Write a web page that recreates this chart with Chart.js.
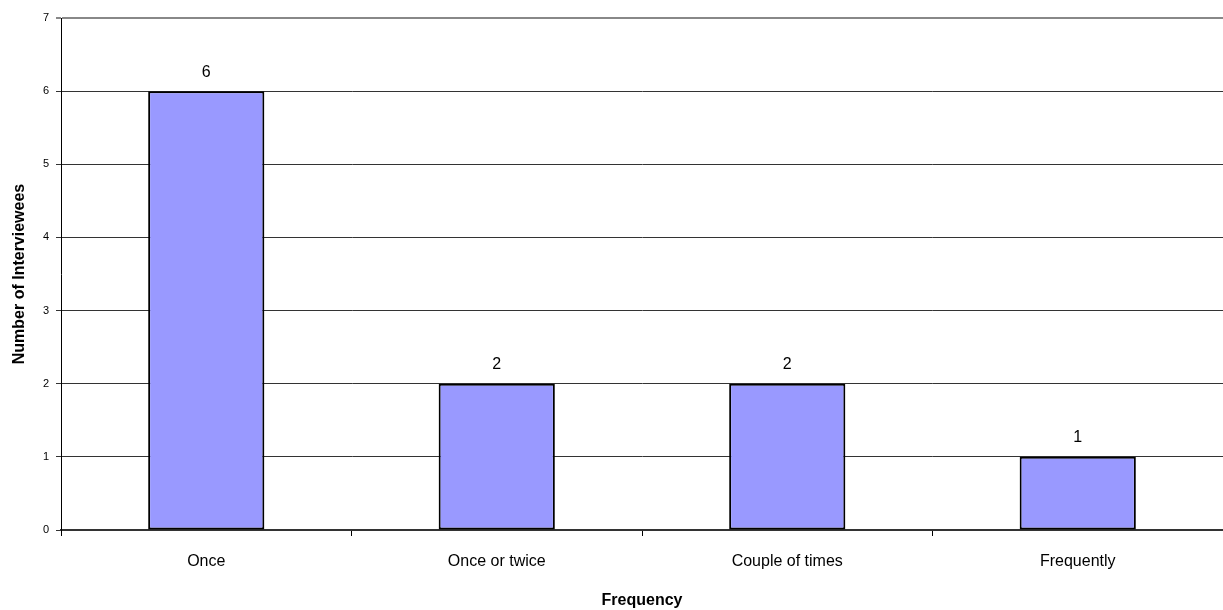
<!DOCTYPE html>
<html>
<head>
<meta charset="utf-8">
<script src="https://cdn.jsdelivr.net/npm/chart.js@4.4.1/dist/chart.umd.min.js"></script>
<style>
  html, body { margin: 0; padding: 0; background: #fff; }
  #wrap { width: 1223px; height: 610px; }
</style>
</head>
<body>
<div id="wrap"><canvas id="c" width="1223" height="610"></canvas></div>
<script>
const categories = ['Once', 'Once or twice', 'Couple of times', 'Frequently'];
const interviewees = [6, 2, 2, 1];
const yTicks = [0, 1, 2, 3, 4, 5, 6, 7];

const FONT = 'Arial, "Liberation Sans", sans-serif';

// Writes each bar's value above it
const valueLabels = {
  id: 'valueLabels',
  afterDatasetsDraw(chart) {
    const ctx = chart.ctx;
    const meta = chart.getDatasetMeta(0);
    ctx.save();
    ctx.fillStyle = '#000';
    ctx.font = '16px ' + FONT;
    ctx.textAlign = 'center';
    ctx.textBaseline = 'bottom';
    meta.data.forEach((bar, i) => {
      ctx.fillText(String(interviewees[i]), bar.x, bar.y - 11);
    });
    ctx.restore();
  }
};

new Chart(document.getElementById('c'), {
  type: 'bar',
  data: {
    labels: categories,
    datasets: [{
      data: interviewees,
      backgroundColor: '#9999ff',
      borderColor: '#000',
      borderWidth: 2,
      borderSkipped: false,
      barPercentage: 0.4,
      categoryPercentage: 1.0
    }]
  },
  options: {
    responsive: false,
    animation: false,
    layout: { padding: { top: 18, right: 0, left: 0, bottom: 0 } },
    plugins: { legend: { display: false }, tooltip: { enabled: false } },
    scales: {
      x: {
        offset: true,
        grid: { offset: true, drawOnChartArea: false, color: '#000', tickLength: 6 },
        border: { color: '#333', width: 2 },
        ticks: { color: '#000', font: { size: 16, family: FONT }, padding: 16, maxRotation: 0 },
        title: { display: true, text: 'Frequency', color: '#000', font: { size: 16, weight: 'bold', family: FONT }, padding: { top: 8, bottom: 0 } },
        afterFit(s) { s.height = 80; }
      },
      y: {
        min: 0,
        max: 7,
        afterBuildTicks(s) { s.ticks = yTicks.map(v => ({ value: v })); },
        grid: {
          color: ctx => ctx.tick && ctx.tick.value === 7 ? '#888' : '#333',
          lineWidth: ctx => ctx.tick && ctx.tick.value === 7 ? 2 : 1,
          tickLength: 5
        },
        border: { color: '#000', width: 1 },
        ticks: { color: '#000', font: { size: 11, family: FONT }, padding: 7 },
        title: { display: true, text: 'Number of Interviewees', color: '#000', font: { size: 16, weight: 'bold', family: FONT }, padding: { top: 10, bottom: 8 } },
        afterFit(s) { s.width = 61; }
      }
    }
  },
  plugins: [valueLabels]
});
</script>
</body>
</html>
